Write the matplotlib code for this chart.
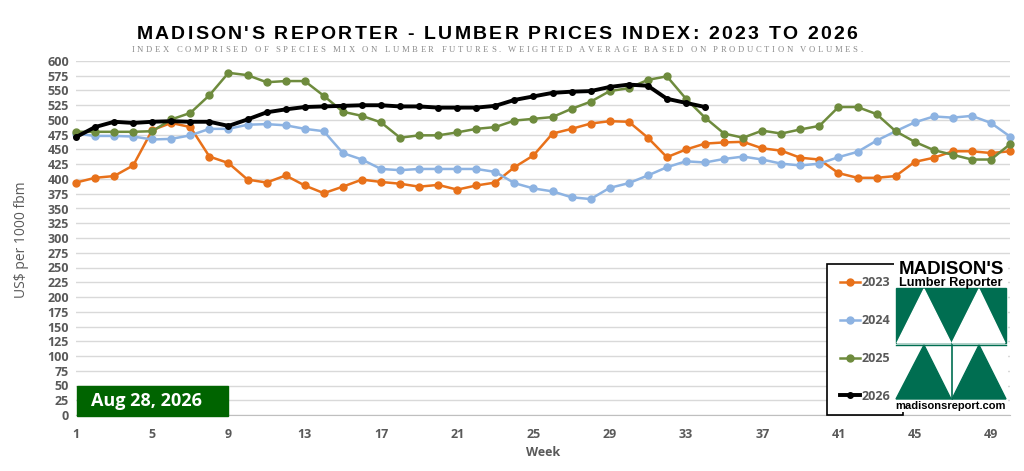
import matplotlib
matplotlib.use("Agg")
import matplotlib.pyplot as plt
from matplotlib.font_manager import FontProperties
from matplotlib.patches import Rectangle, Polygon
import numpy as np

plt.rcParams.update({'font.family': 'Open Sans'})

# weekly index values, US$ per 1000 fbm
weeks = list(range(1, 51))
y2023 = [394, 402, 405, 423, 483, 495, 488, 438, 427, 399, 394, 406, 389, 376, 387,
         399, 395, 392, 387, 390, 382, 389, 394, 420, 440, 477, 485, 494, 498, 497,
         470, 437, 450, 460, 462, 463, 452, 448, 436, 433, 410, 402, 402, 405, 429,
         436, 447, 447, 444, 447]
y2024 = [477, 473, 473, 472, 467, 468, 474, 485, 485, 492, 493, 491, 485, 481, 444,
         433, 417, 415, 417, 417, 417, 417, 412, 393, 384, 379, 369, 366, 385, 393,
         406, 420, 430, 428, 434, 438, 433, 426, 423, 426, 437, 446, 465, 481, 496,
         506, 504, 507, 495, 472]
y2025 = [480, 480, 480, 480, 481, 501, 512, 542, 580, 576, 564, 566, 566, 541, 514,
         507, 496, 470, 474, 474, 479, 485, 488, 499, 502, 505, 519, 531, 549, 554,
         568, 574, 536, 504, 477, 470, 482, 477, 484, 490, 522, 522, 510, 481, 463,
         449, 441, 433, 433, 459]
y2026 = [471, 488, 497, 495, 497, 498, 497, 497, 490, 501, 513, 518, 522, 523, 524,
         525, 525, 523, 523, 521, 521, 521, 524, 534, 540, 546, 548, 549, 556, 560,
         558, 536, 529, 522]
labels = ['2023', '2024', '2025', '2026']
colors = ['#E8711A', '#8DB3E2', '#6E8B3D', '#000000']

W, H = 1024, 471
fig = plt.figure(figsize=(W / 100, H / 100), dpi=100)


def box(x0, y0, x1, y1):
    # pixel box (top-left origin) -> figure fraction rect
    return [x0 / W, 1 - y1 / H, (x1 - x0) / W, (y1 - y0) / H]


ax = fig.add_axes(box(76, 61, 1010, 415))
series = [y2023, y2024, y2025, y2026]
for vals, lab, col in zip(series, labels, colors):
    big = lab == '2026'
    ax.plot(weeks[:len(vals)], vals, color=col, lw=2.8 if big else 1.8,
            marker='o', ms=4 if big else 5, label=lab, clip_on=False, zorder=3)

ax.set_xlim(1, 50)
ax.set_ylim(0, 600)
ax.set_yticks(range(0, 601, 25))
ax.set_xticks(range(1, 50, 4))
ax.grid(axis='y', color='#d9d9d9', lw=1)
ax.set_axisbelow(True)
for s in ['top', 'right', 'left']:
    ax.spines[s].set_visible(False)
ax.spines['bottom'].set_color('#bfbfbf')
ax.tick_params(length=0, labelsize=9, labelcolor='#595959')
ax.tick_params(axis='y', pad=5)
ax.tick_params(axis='x', pad=9)
for t in ax.get_xticklabels() + ax.get_yticklabels():
    t.set_fontweight('bold')
ax.set_xlabel('Week', fontsize=9, color='#595959', fontweight='bold', labelpad=4)
fig.text(22 / W, 1 - 240 / H, 'US$ per 1000 fbm', rotation=90, ha='center',
         va='center', fontsize=10, color='#595959')

leg = ax.legend(loc='upper left', bbox_to_anchor=(827 / W, 1 - 264 / H),
                bbox_transform=fig.transFigure, borderaxespad=0, fancybox=False,
                edgecolor='black', framealpha=1, labelspacing=1.98,
                handlelength=1.65, handletextpad=0.15, borderpad=1.0,
                labelcolor='#595959', prop={'weight': 'bold', 'size': 9})
leg.get_frame().set_linewidth(1.2)
leg.set_zorder(10)

# date box
fig.patches.append(Rectangle((77 / W, 1 - 416 / H), 151 / W, 30 / H,
                             transform=fig.transFigure, color='#006400', zorder=5))
fig.text(91 / W, 1 - 401 / H, 'Aug 28, 2026', color='white', fontsize=13,
         fontweight='bold', va='center', ha='left', zorder=6)

# logo
lg = fig.add_axes(box(894, 262, 1008, 412))
lg.set_xlim(-2, 112)
lg.set_ylim(150, 0)
lg.axis('off')
lg.add_patch(Rectangle((-2, 0), 114, 150, color='white'))
green = '#006E51'
lg.text(55, 12, "MADISON'S", ha='center', va='baseline', fontsize=13.5,
        fontweight='heavy', family='Liberation Sans')
lg.text(55, 24, "Lumber Reporter", ha='center', va='baseline', fontsize=9.2,
        fontweight='bold', family='Liberation Sans')
lg.add_patch(Rectangle((0, 26), 110, 55, color=green))
lg.add_patch(Polygon([(1, 81), (28, 27), (55, 81)], color='white'))
lg.add_patch(Polygon([(56, 81), (83, 27), (109, 81)], color='white'))
lg.plot([0, 110], [82.5, 82.5], color=green, lw=1)
lg.add_patch(Polygon([(0, 137), (28, 83), (55, 137)], color=green))
lg.add_patch(Polygon([(56, 137), (83, 83), (110, 137)], color=green))
lg.plot([55.5, 55.5], [83, 137], color=green, lw=1.2)
lg.text(55, 147, "madisonsreport.com", ha='center', va='baseline', fontsize=8,
        fontweight='bold', family='Liberation Sans')


def spaced_text(xc, base, s, width, fp, color):
    r = fig.canvas.get_renderer()
    def w(t):
        return r.get_text_width_height_descent(t, fp, ismath=False)[0]
    sp = w('a a') - w('aa')
    ws = [sp if ch == ' ' else w(ch) for ch in s]
    gap = (width - sum(ws)) / (len(s) - 1)
    x = xc - width / 2
    for ch, cw in zip(s, ws):
        fig.text(x / W, 1 - base / H, ch, ha='left', va='baseline',
                 fontproperties=fp, color=color)
        x += cw + gap


spaced_text(497, 39, "MADISON'S REPORTER - LUMBER PRICES INDEX: 2023 TO 2026", 721,
            FontProperties(family='Liberation Sans', weight='bold', size=14), 'black')
spaced_text(497, 52.5, "INDEX COMPRISED OF SPECIES MIX ON LUMBER FUTURES. WEIGHTED "
            "AVERAGE BASED ON PRODUCTION VOLUMES.", 731,
            FontProperties(family='Liberation Serif', size=6.2), '#8c8c8c')

fig.savefig('out.png', dpi=100)
